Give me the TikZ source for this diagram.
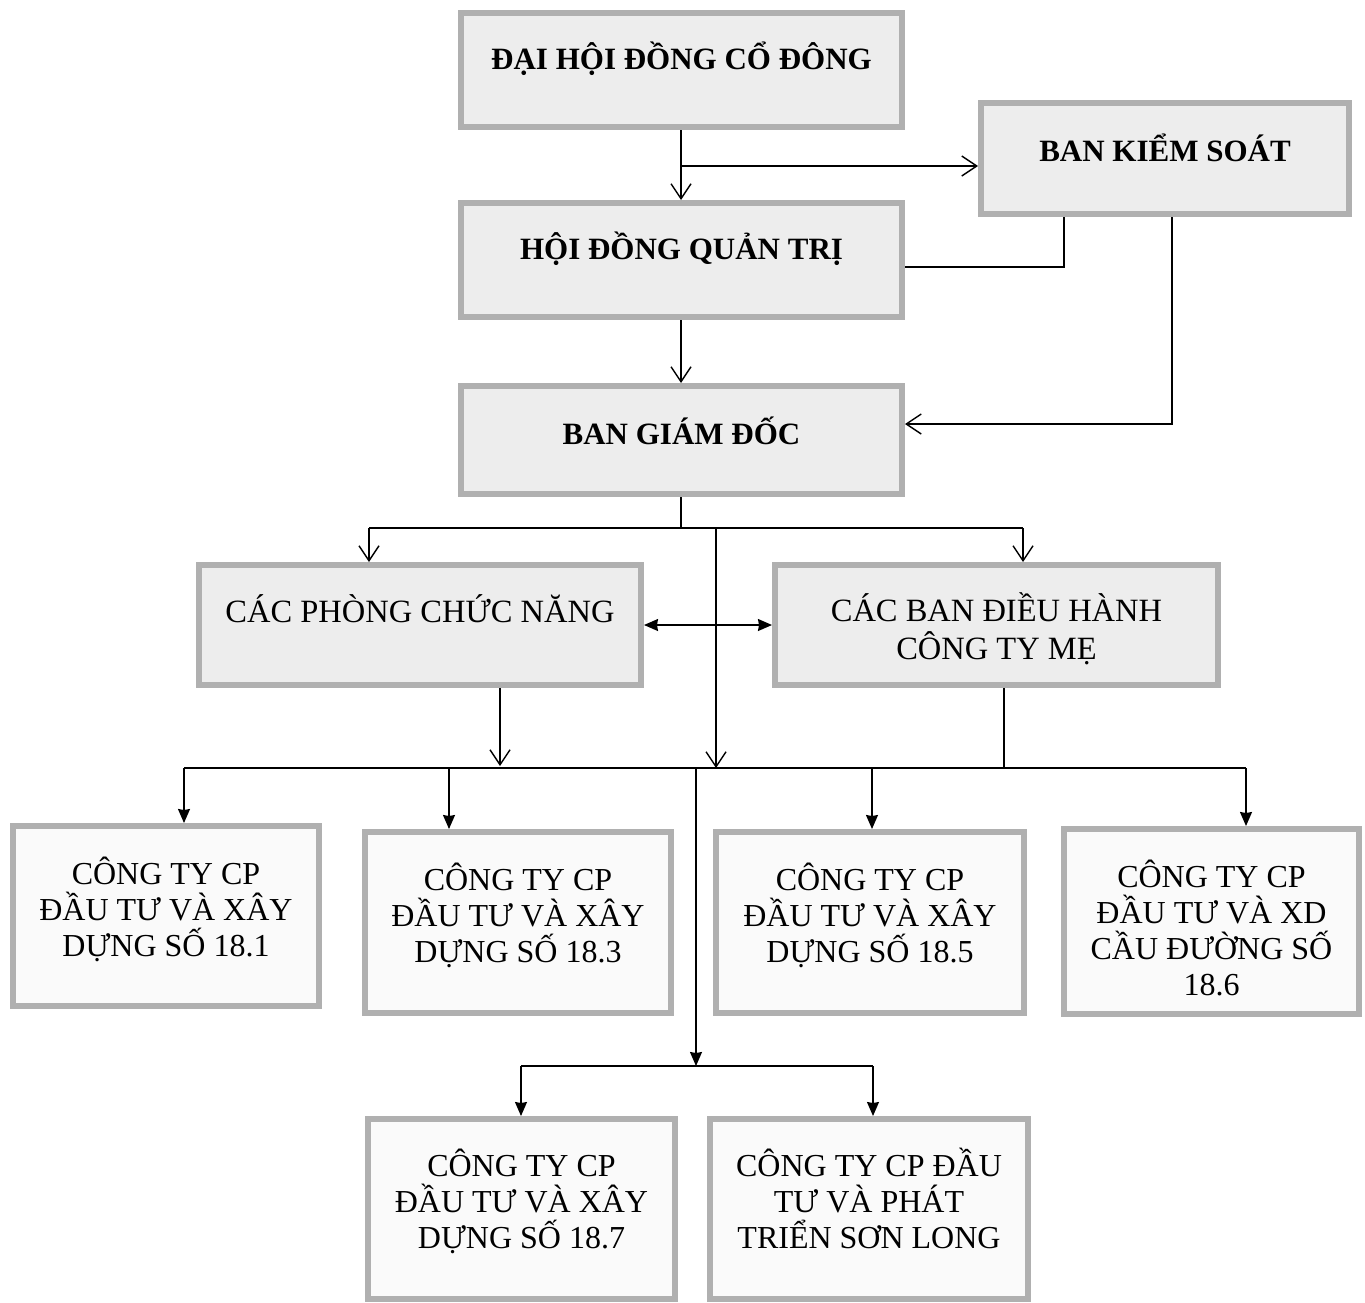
\documentclass[tikz,border=0pt]{standalone}
\usepackage{fontspec}
\setmainfont{Liberation Serif}
\usetikzlibrary{arrows.meta}
\tikzset{
  box/.style={draw=gray!62, line width=6pt, fill=gray!14, inner sep=0pt},
  wbox/.style={draw=gray!62, line width=6pt, fill=gray!4, inner sep=0pt},
  txt/.style={align=center, inner sep=0pt},
  toptxt/.style={txt, font=\fontsize{31}{37}\selectfont\bfseries},
  regtxt/.style={txt, font=\fontsize{32.5}{38}\selectfont},
  bottxt/.style={txt, font=\fontsize{32}{36}\selectfont},
  conn/.style={line width=1.4pt, black},
  openarr/.style={conn, -{Straight Barb[length=15pt,width=20pt,line width=1.4pt]}},
  fillarr/.style={conn, -{Stealth[length=14pt,width=12pt,inset=1pt]}},
  dblarr/.style={conn, {Stealth[length=14pt,width=12pt,inset=1pt]}-{Stealth[length=14pt,width=12pt,inset=1pt]}}
}
\begin{document}
\begin{tikzpicture}[x=1pt,y=-1pt]
\useasboundingbox (0,0) rectangle (1365,1302);
% boxes (outer size minus line width)
\node[box, minimum width=441pt, minimum height=114pt] (dh) at (681.5,70) {};
\node[box, minimum width=368pt, minimum height=111pt] (bks) at (1165,158.5) {};
\node[box, minimum width=441pt, minimum height=114pt] (hd) at (681.5,260) {};
\node[box, minimum width=441pt, minimum height=108pt] (bgd) at (681.5,440) {};
\node[box, minimum width=442pt, minimum height=120pt] (cp) at (420,625) {};
\node[box, minimum width=443pt, minimum height=120pt] (cb) at (996.5,625) {};
\node[wbox, minimum width=306pt, minimum height=180pt] (c1) at (166,916) {};
\node[wbox, minimum width=306pt, minimum height=181pt] (c3) at (518,922.5) {};
\node[wbox, minimum width=308pt, minimum height=181pt] (c5) at (870,922.5) {};
\node[wbox, minimum width=295pt, minimum height=185pt] (c6) at (1211.5,921.5) {};
\node[wbox, minimum width=307pt, minimum height=180pt] (c7) at (521.5,1209) {};
\node[wbox, minimum width=318pt, minimum height=180pt] (sl) at (869,1209) {};
% texts
\node[toptxt] (dhT) at ([yshift=11pt]dh.center) {ĐẠI HỘI ĐỒNG CỔ ĐÔNG};
\node[toptxt] (bksT) at ([yshift=11pt]bks.center) {BAN KIỂM SOÁT};
\node[toptxt] (hdT) at ([yshift=11pt]hd.center) {HỘI ĐỒNG QUẢN TRỊ};
\node[toptxt] (bgdT) at ([yshift=9pt]bgd.center) {BAN GIÁM ĐỐC};
\node[regtxt] (cpT) at ([yshift=16pt]cp.center) {CÁC PHÒNG CHỨC NĂNG};
\node[regtxt] (cbT) at ([yshift=-4pt]cb.center) {CÁC BAN ĐIỀU HÀNH\\CÔNG TY MẸ};
\node[bottxt] (c1T) at ([yshift=7pt]c1.center) {CÔNG TY CP\\ĐẦU TƯ VÀ XÂY\\DỰNG SỐ 18.1};
\node[bottxt] (c3T) at ([yshift=7pt]c3.center) {CÔNG TY CP\\ĐẦU TƯ VÀ XÂY\\DỰNG SỐ 18.3};
\node[bottxt] (c5T) at ([yshift=7pt]c5.center) {CÔNG TY CP\\ĐẦU TƯ VÀ XÂY\\DỰNG SỐ 18.5};
\node[bottxt] (c6T) at ([yshift=-6pt]c6.center) {CÔNG TY CP\\ĐẦU TƯ VÀ XD\\CẦU ĐƯỜNG SỐ\\18.6};
\node[bottxt] (c7T) at ([yshift=8pt]c7.center) {CÔNG TY CP\\ĐẦU TƯ VÀ XÂY\\DỰNG SỐ 18.7};
\node[bottxt] (slT) at ([yshift=11pt]sl.center) {CÔNG TY CP ĐẦU\\TƯ VÀ PHÁT\\TRIỂN SƠN LONG};
% junction coordinates
\coordinate (j1) at (681,166);
\coordinate (k1) at (1064,267);
\coordinate (k2) at (1172,424);
\coordinate (j2) at (681,528);
\coordinate (L1) at (369,528);
\coordinate (R1) at (1023,528);
\coordinate (m1) at (716,528);
\coordinate (m2) at (716,768);
\coordinate (p1) at (500,766);
\coordinate (q1) at (1004,768);
\coordinate (bL) at (184,768);
\coordinate (bR) at (1246,768);
\coordinate (b3) at (449,768);
\coordinate (b5) at (872,768);
\coordinate (v1) at (696,768);
\coordinate (v2) at (696,1066);
\coordinate (hL) at (521,1066);
\coordinate (hR) at (873,1066);
% top connectors
\draw[openarr] (dh.south -| j1) -- (hd.north -| j1);
\draw[openarr] (j1) -- (bks.west |- j1);
\draw[conn] (bks.south -| k1) -- (k1) -- (hd.east |- k1);
\draw[openarr] (bks.south -| k2) -- (k2) -- (bgd.east |- k2);
\draw[openarr] (hd.south -| j1) -- (bgd.north -| j1);
% BGD branch
\draw[conn] (bgd.south -| j2) -- (j2);
\draw[conn] (L1) -- (R1);
\draw[openarr] (L1) -- (cp.north -| L1);
\draw[openarr] (R1) -- (cb.north -| R1);
\draw[openarr] (m1) -- (m2);
\draw[dblarr] (cp.east) -- (cb.west);
\draw[openarr] (cp.south -| p1) -- (p1);
\draw[conn] (cb.south -| q1) -- (q1);
% lower bus
\draw[conn] (bL) -- (bR);
\draw[fillarr] (bL) -- (c1.north -| bL);
\draw[fillarr] (b3) -- (c3.north -| b3);
\draw[fillarr] (b5) -- (c5.north -| b5);
\draw[fillarr] (bR) -- (c6.north -| bR);
\draw[fillarr] (v1) -- (v2);
\draw[conn] (hL) -- (hR);
\draw[fillarr] (hL) -- (c7.north -| hL);
\draw[fillarr] (hR) -- (sl.north -| hR);
\end{tikzpicture}
\end{document}
